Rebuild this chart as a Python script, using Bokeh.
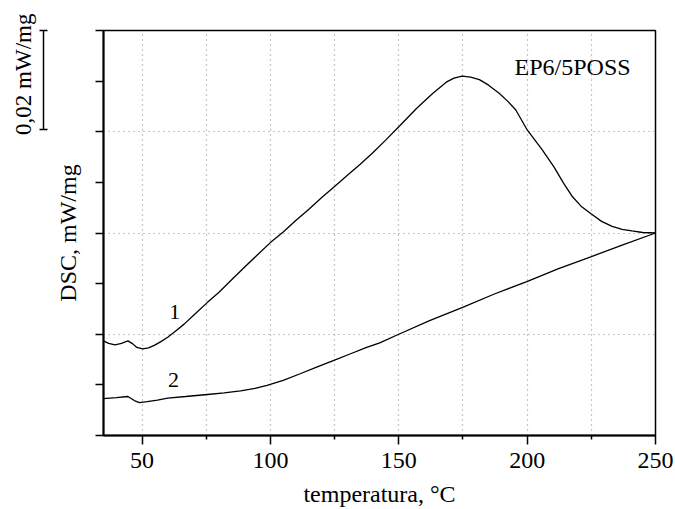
import math
from bokeh.plotting import figure
from bokeh.models import FixedTicker, Label, Range1d, LinearAxis, Title
from bokeh.core.properties import value
from bokeh.embed import file_html
from bokeh.resources import INLINE

FONT = "Liberation Serif"

# ---- data (y in arbitrary units, 1 unit = 1 y-tick) ----
temp_1 = [35, 37, 39.5, 42, 44.5, 46.4, 48, 50.3, 52.5, 54.8, 57.5, 60, 63, 66.4,
          70, 75.5, 80, 85.2, 90, 95, 100, 105, 110, 115, 120, 125, 130, 135,
          140, 145, 150.4, 156.9, 163.3, 168.5, 171.5, 174.7, 178, 181.4, 185,
          189.1, 192.5, 195.6, 200.1, 205.9, 210.5, 214, 217.6, 221, 224.9, 229,
          233.1, 237, 240.8, 245, 250]
dsc_1 = [1.87, 1.82, 1.79, 1.82, 1.87, 1.81, 1.74, 1.71, 1.73, 1.78, 1.86, 1.94,
         2.06, 2.20, 2.37, 2.63, 2.83, 3.09, 3.33, 3.57, 3.81, 4.02, 4.25, 4.47,
         4.70, 4.92, 5.14, 5.36, 5.59, 5.84, 6.12, 6.46, 6.76, 6.98, 7.06, 7.10,
         7.08, 7.03, 6.92, 6.76, 6.60, 6.43, 6.03, 5.64, 5.30, 5.00, 4.72, 4.53,
         4.38, 4.23, 4.13, 4.07, 4.04, 4.01, 4.00]

temp_2 = [35, 40, 44.5, 47, 49, 52, 56, 60, 67, 75.5, 82, 88.4, 94, 98.7, 105,
          111.6, 118, 124.5, 131, 137.5, 142.6, 150, 162, 174.9, 187, 199.9,
          212, 224.8, 237, 250]
dsc_2 = [0.73, 0.75, 0.77, 0.69, 0.65, 0.67, 0.70, 0.74, 0.77, 0.81, 0.84, 0.88,
         0.93, 0.99, 1.09, 1.22, 1.35, 1.48, 1.61, 1.74, 1.83, 2.00, 2.27, 2.53,
         2.79, 3.04, 3.29, 3.53, 3.76, 4.00]

x_major = [50, 100, 150, 200, 250]
x_minor = [75, 125, 175, 225]
x_grid = [50, 75, 100, 125, 150, 175, 200, 225]
y_ticks = [0, 1, 2, 3, 4, 5, 6, 7, 8]
y_grid = [2, 4, 6]

X_RANGE = (35, 250)
Y_RANGE = (0, 8)

# scale bar: 0,02 mW/mg corresponds to ~1.97 y-units
scale_y = (6.05, 8.0)
scale_text = "0,02 mW/mg"

sample_name = "EP6/5POSS"
sample_pos = (240.3, 7.27)
curve_labels = ["1", "2"]
curve_label_x = [62.8, 62.3]
curve_label_y = [2.44, 1.09]

p = figure(width=675, height=509, output_backend="svg", toolbar_location=None,
           x_range=Range1d(*X_RANGE), y_range=Range1d(*Y_RANGE),
           min_border_left=103, min_border_right=20, min_border_top=30,
           min_border_bottom=72)
p.background_fill_color = "white"
p.border_fill_color = "white"
p.outline_line_color = "black"
p.outline_line_width = 1.5

# x axis
xa = p.xaxis[0]
xa.ticker = FixedTicker(ticks=x_major, minor_ticks=x_minor)
xa.axis_label = "temperatura, °C"
xa.axis_label_text_font = FONT
xa.axis_label_text_font_size = "24px"
xa.axis_label_text_font_style = "normal"
xa.axis_label_text_color = "black"
xa.axis_label_standoff = 10
xa.major_label_text_font = FONT
xa.major_label_text_font_size = "24px"
xa.major_label_text_color = "black"
xa.major_label_standoff = 8
xa.major_tick_out = 9
xa.major_tick_in = 0
xa.minor_tick_out = 4
xa.minor_tick_in = 0
xa.axis_line_width = 2
xa.major_tick_line_width = 1.5
xa.minor_tick_line_width = 1.5
xa.axis_line_color = "black"

# y axis
ya = p.yaxis[0]
ya.ticker = FixedTicker(ticks=y_ticks, minor_ticks=[])
ya.major_label_overrides = {t: "" for t in y_ticks}
ya.major_label_text_font_size = "1px"
ya.axis_label = "DSC, mW/mg"
ya.axis_label_text_font = FONT
ya.axis_label_text_font_size = "24px"
ya.axis_label_text_font_style = "normal"
ya.axis_label_text_color = "black"
ya.axis_label_standoff = 15
ya.major_tick_out = 8
ya.major_tick_in = 0
ya.minor_tick_out = 0
ya.axis_line_width = 2
ya.major_tick_line_width = 1.5
ya.axis_line_color = "black"

# small empty spacer axis between the y axis and the scale bar
spacer = LinearAxis(ticker=FixedTicker(ticks=[], minor_ticks=[]),
                    axis_line_color=None, major_tick_line_color=None,
                    minor_tick_line_color=None, major_tick_out=0, minor_tick_out=0,
                    major_label_text_font_size="1px",
                    axis_label=" ", axis_label_text_font_size="1px",
                    axis_label_standoff=4)
p.add_layout(spacer, "left")

# scale bar drawn as a bounded axis
sa = LinearAxis(bounds=scale_y,
                ticker=FixedTicker(ticks=list(scale_y), minor_ticks=[]),
                major_label_overrides={t: "" for t in scale_y},
                major_label_text_font_size="1px", major_label_standoff=2,
                major_tick_in=4, major_tick_out=4, minor_tick_out=0,
                axis_line_width=1.5, major_tick_line_width=1.5,
                axis_line_color="black", major_tick_line_color="black")
p.add_layout(sa, "left")

p.add_layout(Title(text=scale_text, align="right", offset=-17,
                   text_font=FONT, text_font_size="23px", text_font_style="normal",
                   text_color="black", standoff=8), "left")

# grids
p.xgrid.ticker = FixedTicker(ticks=x_grid)
p.ygrid.ticker = FixedTicker(ticks=y_grid)
for g in (p.xgrid[0], p.ygrid[0]):
    g.grid_line_color = "#8c8c8c"
    g.grid_line_dash = "1 4"
    g.grid_line_width = 1.2

# curves
p.line(temp_1, dsc_1, line_color="black", line_width=1.3)
p.line(temp_2, dsc_2, line_color="black", line_width=1.3)

p.text(curve_label_x, curve_label_y, text=curve_labels, text_font=value(FONT),
       text_font_size="22px", text_align="center", text_baseline="middle",
       text_color="black")

p.add_layout(Label(x=sample_pos[0], y=sample_pos[1], text=sample_name,
                   text_font=FONT, text_font_size="24px", text_align="right",
                   text_baseline="alphabetic", text_color="black"))

open("out.html", "w").write(file_html(p, INLINE))
